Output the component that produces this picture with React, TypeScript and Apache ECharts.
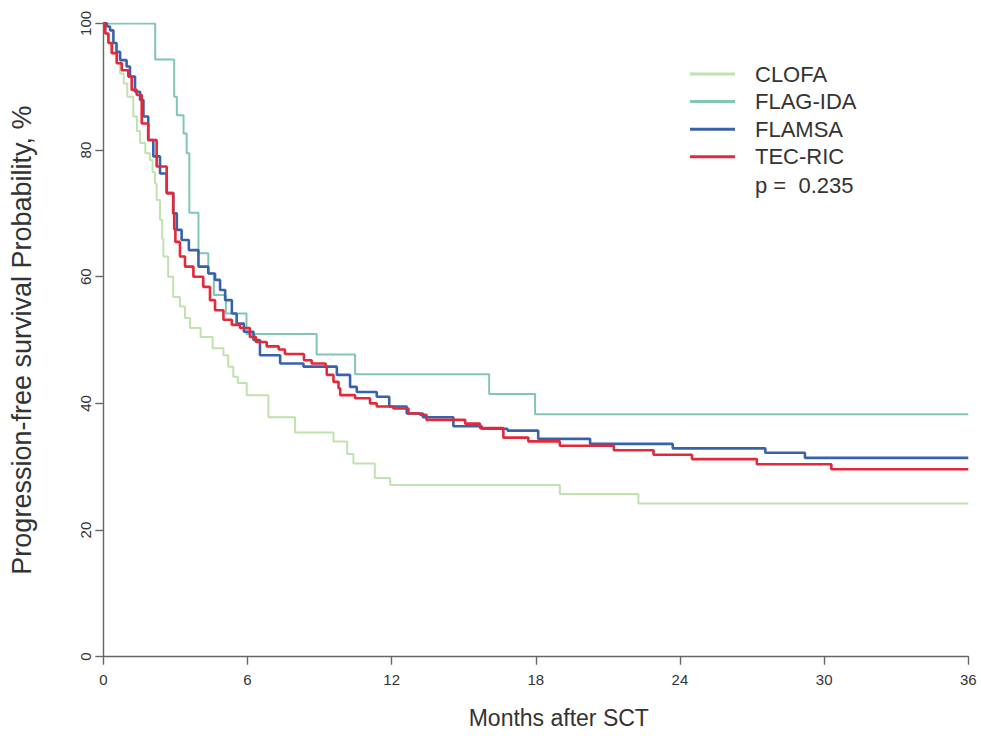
import React, { useEffect, useRef } from "react";
import * as echarts from "echarts";

// Kaplan-Meier step points: months after SCT / progression-free survival (%)
const clofaMonths = [0, 0.1, 0.25, 0.4, 0.55, 0.7, 0.85, 1.0, 1.25, 1.4, 1.53, 1.75, 1.94, 2.05, 2.15, 2.22, 2.36, 2.45, 2.5, 2.7, 2.91, 3.19, 3.4, 3.61, 4.05, 4.55, 5.0, 5.2, 5.41, 5.6, 5.97, 6.87, 7.98, 9.58, 10.15, 10.41, 11.3, 11.94, 19.0, 22.27, 36];
const clofaPFS = [100, 98.4, 96.9, 95.3, 93.7, 92.1, 90.5, 88.4, 85.3, 83, 81.1, 79.5, 78.4, 76.5, 74.7, 72.1, 69, 66, 63.2, 60, 56.8, 55.3, 53.5, 51.9, 50.5, 48.7, 47.6, 45.8, 44.2, 43.2, 41.3, 37.8, 35.4, 34.0, 32.0, 30.5, 28.2, 27.1, 25.7, 24.2, 24.2];

const flagMonths = [0, 2.16, 2.95, 3.06, 3.34, 3.47, 3.58, 3.96, 4.37, 4.6, 5.1, 5.96, 8.88, 10.48, 16.06, 17.97, 36];
const flagPFS = [100, 94.3, 88.4, 85.5, 82.6, 79.5, 70.1, 63.7, 60.5, 57.1, 54.2, 50.95, 47.7, 44.6, 41.5, 38.3, 38.3];

const flamsaMonths = [0, 0.15, 0.28, 0.42, 0.55, 0.7, 0.97, 1.11, 1.32, 1.53, 1.67, 1.87, 2.08, 2.36, 2.64, 2.91, 3.06, 3.26, 3.56, 3.96, 4.37, 4.65, 4.86, 5.07, 5.35, 5.55, 5.85, 6.25, 6.52, 7.36, 8.33, 9.72, 10.27, 10.55, 11.38, 11.9, 12.63, 13.3, 14.57, 15.75, 16.82, 18.1, 20.26, 23.7, 27.55, 29.2, 36];
const flamsaPFS = [100, 99.5, 98.9, 96.9, 95.5, 94.2, 93.2, 91.6, 89.2, 87.9, 85.3, 81.6, 79, 76.3, 73.2, 70, 67.4, 65.8, 64.2, 61.6, 60.5, 59.5, 57.9, 56.3, 54.2, 52.6, 51.3, 50, 47.6, 46.3, 45.8, 44.5, 42.6, 41.8, 41.05, 39.5, 38.4, 37.8, 36.4, 36.0, 35.7, 34.4, 33.6, 32.9, 32.2, 31.4, 31.4];

const tecMonths = [0, 0.08, 0.21, 0.35, 0.56, 0.77, 1.04, 1.18, 1.39, 1.6, 1.87, 2.22, 2.64, 2.91, 2.95, 3.0, 3.19, 3.4, 3.75, 4.16, 4.44, 4.65, 5.0, 5.35, 5.69, 6.1, 6.35, 6.8, 7.3, 7.56, 8.35, 8.67, 9.25, 9.3, 9.58, 9.79, 9.86, 10.48, 11.1, 11.38, 12.07, 12.7, 13.18, 13.45, 15.06, 15.68, 16.65, 17.69, 19.0, 21.25, 22.9, 24.5, 27.2, 30.3, 36];
const tecPFS = [100, 98.4, 96.9, 95.3, 93.7, 92.6, 91.6, 89.5, 88.7, 84.2, 81.6, 77.4, 73.2, 70, 67.5, 65.5, 63.2, 61.6, 60, 58.4, 56.3, 54.7, 53.2, 52.4, 51.9, 50.5, 49.7, 49, 48.5, 47.8, 46.8, 46.3, 45.8, 44.5, 43.4, 42.4, 41.3, 40.8, 40.0, 39.5, 39.2, 38.4, 38.2, 37.4, 36.8, 36.1, 34.6, 34.0, 33.3, 32.6, 31.9, 31.2, 30.4, 29.6, 29.6];

const groups = ["CLOFA", "FLAG-IDA", "FLAMSA", "TEC-RIC"];
const xTicks = [0, 6, 12, 18, 24, 30, 36];
const yTicks = [0, 20, 40, 60, 80, 100];
const pValueText = "p =  0.235";

const zip = (a: number[], b: number[]) => a.map((v, i) => [v, b[i]]);

export default function App() {
  const ref = useRef<HTMLDivElement>(null);
  useEffect(() => {
    if (!ref.current) return;
    const chart = echarts.init(ref.current, undefined, { renderer: "svg" });
    const font = "Liberation Sans, Arial, sans-serif";
    const colors = ["#bfe2ae", "#80c6b2", "#3a62ab", "#e2293a"];
    const widths = [2, 2, 2.6, 2.6];
    const sets = [
      zip(clofaMonths, clofaPFS),
      zip(flagMonths, flagPFS),
      zip(flamsaMonths, flamsaPFS),
      zip(tecMonths, tecPFS),
    ];
    chart.setOption({
      animation: false,
      backgroundColor: "#ffffff",
      textStyle: { fontFamily: font },
      grid: { left: 103.3, right: 12.7, top: 23.4, bottom: 79.3, outerBoundsMode: "none" },
      legend: {
        orient: "vertical",
        left: 690,
        top: 63,
        padding: 0,
        itemWidth: 45,
        itemHeight: 3,
        itemGap: 5.6,
        icon: "rect",
        data: groups,
        textStyle: { fontSize: 22, color: "#333", lineHeight: 22, padding: [0, 0, 0, 15], fontFamily: font },
      },
      xAxis: {
        type: "value",
        min: 0,
        max: 36,
        interval: 6,
        name: "Months after SCT",
        nameLocation: "middle",
        nameGap: 50,
        nameTextStyle: { fontSize: 23, color: "#333", padding: [0, 0, 0, 46], fontFamily: font },
        axisLine: { show: true, lineStyle: { color: "#666", width: 1.4 } },
        axisTick: { show: true, length: 8, lineStyle: { color: "#666", width: 1.4 } },
        axisLabel: { fontSize: 15, color: "#333", margin: 15, fontFamily: font, formatter: (v: number) => (xTicks.includes(v) ? String(v) : "") },
        splitLine: { show: false },
      },
      yAxis: {
        type: "value",
        min: 0,
        max: 100,
        interval: 20,
        name: "Progression-free survival Probability, %",
        nameLocation: "middle",
        nameGap: 68,
        nameTextStyle: { fontSize: 27, color: "#333", fontFamily: font },
        axisLine: { show: true, lineStyle: { color: "#666", width: 1.4 } },
        axisTick: { show: true, length: 8, lineStyle: { color: "#666", width: 1.4 } },
        axisLabel: { fontSize: 15, color: "#333", rotate: 90, margin: 10, fontFamily: font, formatter: (v: number) => (yTicks.includes(v) ? String(v) : "") },
        splitLine: { show: false },
      },
      series: groups.map((g, i) => ({
        name: g,
        type: "line",
        step: "end",
        data: sets[i],
        showSymbol: false,
        symbol: "none",
        color: colors[i],
        lineStyle: { color: colors[i], width: widths[i] },
        z: 2 + i,
      })),
      graphic: [
        {
          type: "text",
          left: 755,
          top: 174,
          style: { text: pValueText, fontSize: 22, fill: "#333", fontFamily: font },
        },
      ],
    });
    return () => chart.dispose();
  }, []);
  return <div ref={ref} style={{ position: "fixed", left: 0, top: 0, width: 981, height: 736 }} />;
}
